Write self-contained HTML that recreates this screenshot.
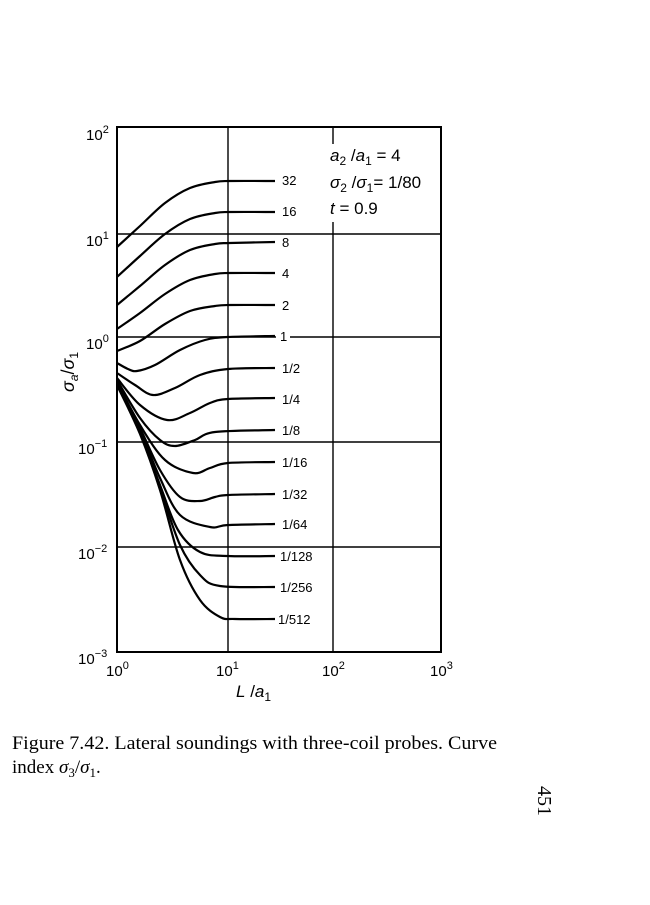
<!DOCTYPE html>
<html><head><meta charset="utf-8"><style>
body{margin:0;background:#fff;width:650px;height:900px;overflow:hidden}
</style></head><body>
<svg id="s" width="650" height="900" xmlns="http://www.w3.org/2000/svg" font-family="Liberation Sans, sans-serif">
<rect x="117" y="127" width="324" height="525" fill="none" stroke="#000" stroke-width="2"/>
<g stroke="#000" stroke-width="1.4">
<line x1="228" y1="127" x2="228" y2="652"/>
<line x1="333" y1="127" x2="333" y2="652"/>
<line x1="117" y1="234" x2="441" y2="234"/>
<line x1="117" y1="337" x2="441" y2="337"/>
<line x1="117" y1="442" x2="441" y2="442"/>
<line x1="117" y1="547" x2="441" y2="547"/>
</g>
<rect x="327" y="144" width="108" height="78" fill="#fff"/>
<g id="curves" fill="none" stroke="#000" stroke-width="2.2"></g>
<g font-size="13" fill="#000">
<rect x="276" y="328" width="14" height="16" fill="#fff"/>
<text x="282" y="185">32</text><text x="282" y="216">16</text><text x="282" y="247">8</text>
<text x="282" y="278">4</text><text x="282" y="310">2</text><text x="280" y="341">1</text>
<text x="282" y="373">1/2</text><text x="282" y="404">1/4</text><text x="282" y="435">1/8</text>
<text x="282" y="467">1/16</text><text x="282" y="499">1/32</text><text x="282" y="529">1/64</text>
<text x="280" y="561">1/128</text><text x="280" y="592">1/256</text><text x="278" y="624">1/512</text>
</g>
<g font-size="17" fill="#000">
<text x="330" y="161"><tspan font-style="italic">a</tspan><tspan font-size="12" dy="4">2</tspan><tspan dy="-4"> /</tspan><tspan font-style="italic">a</tspan><tspan font-size="12" dy="4">1</tspan><tspan dy="-4"> = 4</tspan></text>
<text x="330" y="188"><tspan font-style="italic">σ</tspan><tspan font-size="12" dy="4">2</tspan><tspan dy="-4"> /</tspan><tspan font-style="italic">σ</tspan><tspan font-size="12" dy="4">1</tspan><tspan dy="-4">= 1/80</tspan></text>
<text x="330" y="214"><tspan font-style="italic">t</tspan> = 0.9</text>
</g>
<g font-size="15" fill="#000">
<text x="86" y="140">10<tspan font-size="11" dy="-7">2</tspan></text>
<text x="86" y="246">10<tspan font-size="11" dy="-7">1</tspan></text>
<text x="86" y="349">10<tspan font-size="11" dy="-7">0</tspan></text>
<text x="78" y="454">10<tspan font-size="11" dy="-7">−1</tspan></text>
<text x="78" y="559">10<tspan font-size="11" dy="-7">−2</tspan></text>
<text x="78" y="664">10<tspan font-size="11" dy="-7">−3</tspan></text>
<text x="106" y="676">10<tspan font-size="11" dy="-7">0</tspan></text>
<text x="216" y="676">10<tspan font-size="11" dy="-7">1</tspan></text>
<text x="322" y="676">10<tspan font-size="11" dy="-7">2</tspan></text>
<text x="430" y="676">10<tspan font-size="11" dy="-7">3</tspan></text>
<text x="236" y="697" font-size="17"><tspan font-style="italic">L</tspan> /<tspan font-style="italic">a</tspan><tspan font-size="12" dy="4">1</tspan></text>
<text transform="translate(74,392) rotate(-90)" font-size="18"><tspan font-style="italic">σ</tspan><tspan font-style="italic" font-size="12" dy="4">a</tspan><tspan dy="-4">/</tspan><tspan font-style="italic">σ</tspan><tspan font-size="12" dy="4">1</tspan></text>
</g>
<g font-family="Liberation Serif, serif" font-size="19" fill="#000">
<text x="12" y="749" textLength="485" lengthAdjust="spacingAndGlyphs">Figure 7.42. Lateral soundings with three-coil probes. Curve</text>
<text x="12" y="773">index <tspan font-style="italic">σ</tspan><tspan font-size="13" dy="4">3</tspan><tspan dy="-4">/</tspan><tspan font-style="italic">σ</tspan><tspan font-size="13" dy="4">1</tspan><tspan dy="-4">.</tspan></text>
<text transform="translate(538,786) rotate(90)" font-size="20">451</text>
</g>
</svg>
<script>
var C=[
[[117,247],[140,226],[165,203],[190,188],[215,182],[230,181],[275,181]],
[[117,277],[140,256],[165,234],[190,219],[215,213],[230,212],[275,212]],
[[117,305],[140,286],[165,265],[190,250],[215,244],[230,243],[275,242]],
[[117,329],[140,313],[165,294],[190,280],[215,274],[230,273],[275,273]],
[[117,351],[140,341],[165,324],[190,311],[215,306],[230,305],[275,305]],
[[117,363],[128,369],[137,371],[155,365],[180,350],[205,340],[228,337],[275,336]],
[[117,373],[135,385],[153,395],[175,388],[200,375],[228,369],[275,368]],
[[117,378],[140,405],[167,420],[190,413],[210,403],[228,399],[275,398]],
[[117,380],[140,418],[160,440],[175,446],[195,440],[215,432],[275,430]],
[[117,382],[140,425],[165,460],[193,473],[210,468],[228,463],[275,462]],
[[117,383],[140,428],[160,470],[180,497],[200,501],[215,497],[228,495],[275,494]],
[[117,384],[140,430],[160,478],[180,515],[210,527],[228,525],[275,524]],
[[117,384],[140,432],[160,485],[178,530],[200,552],[228,556],[275,556]],
[[117,385],[140,433],[160,488],[180,545],[200,575],[220,586],[275,587]],
[[117,385],[140,434],[160,490],[180,560],[200,600],[220,617],[235,619],[275,619]]];
var g=document.getElementById('curves'),ns='http://www.w3.org/2000/svg';
C.forEach(function(p){var d='M'+p[0][0]+','+p[0][1];
for(var i=0;i<p.length-1;i++){var p0=p[Math.max(i-1,0)],p1=p[i],p2=p[i+1],p3=p[Math.min(i+2,p.length-1)];
d+=' C'+(p1[0]+(p2[0]-p0[0])/6)+','+(p1[1]+(p2[1]-p0[1])/6)+' '+(p2[0]-(p3[0]-p1[0])/6)+','+(p2[1]-(p3[1]-p1[1])/6)+' '+p2[0]+','+p2[1];}
var e=document.createElementNS(ns,'path');e.setAttribute('d',d);g.appendChild(e);});
</script>
</body></html>
